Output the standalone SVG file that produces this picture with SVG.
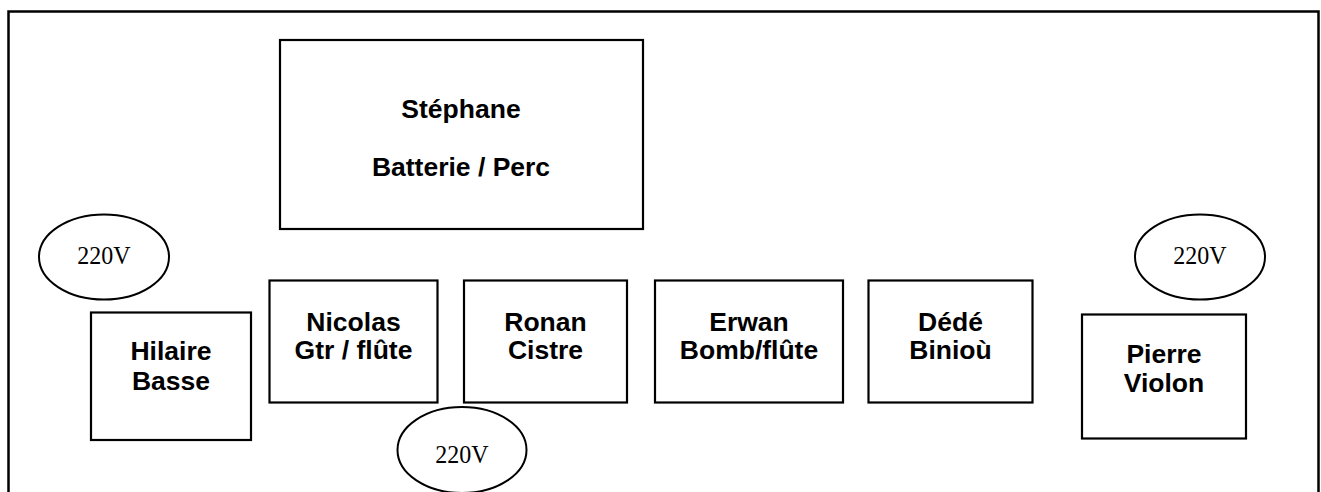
<svg xmlns="http://www.w3.org/2000/svg" width="1321" height="492" viewBox="0 0 1321 492">
<style>
.box{fill:#fff;stroke:#000;stroke-width:2.2}
.ell{fill:#fff;stroke:#000;stroke-width:2}
.lbl{font-family:"Liberation Sans",Arial,sans-serif;font-weight:bold;font-size:26.5px;fill:#000;text-anchor:middle}
.v{font-family:"Liberation Serif","Times New Roman",serif;font-size:24px;fill:#000;text-anchor:middle}
</style>
<rect width="1321" height="492" fill="#fff"/>
<rect x="8.5" y="11.5" width="1310" height="500" fill="none" stroke="#000" stroke-width="2.5"/>
<g id="connectors"></g>
<g id="stephane">
<rect class="box" x="280" y="40" width="363" height="189"/>
<text class="lbl" x="461" y="118">Stéphane</text>
<text class="lbl" x="461" y="176">Batterie / Perc</text>
</g>
<g id="power-left">
<ellipse class="ell" cx="104" cy="257" rx="65" ry="42.5"/>
<text class="v" transform="translate(104,264) scale(1,1.08)">220V</text>
</g>
<g id="power-right">
<ellipse class="ell" cx="1200" cy="257" rx="65" ry="42.5"/>
<text class="v" transform="translate(1200,264) scale(1,1.08)">220V</text>
</g>
<g id="hilaire">
<rect class="box" x="91" y="312.5" width="160" height="127.5"/>
<text class="lbl" x="171" y="360">Hilaire</text>
<text class="lbl" x="171" y="390">Basse</text>
</g>
<g id="nicolas">
<rect class="box" x="269.5" y="280.5" width="168" height="122"/>
<text class="lbl" x="353.5" y="330.5">Nicolas</text>
<text class="lbl" x="353.5" y="359">Gtr / flûte</text>
</g>
<g id="ronan">
<rect class="box" x="464" y="280.5" width="163" height="122"/>
<text class="lbl" x="545.5" y="330.5">Ronan</text>
<text class="lbl" x="545.5" y="359">Cistre</text>
</g>
<g id="erwan">
<rect class="box" x="655" y="280.5" width="188" height="122"/>
<text class="lbl" x="749" y="330.5">Erwan</text>
<text class="lbl" x="749" y="359">Bomb/flûte</text>
</g>
<g id="dede">
<rect class="box" x="868.5" y="280.5" width="164" height="122"/>
<text class="lbl" x="950.5" y="330.5">Dédé</text>
<text class="lbl" x="950.5" y="359">Binioù</text>
</g>
<g id="pierre">
<rect class="box" x="1082" y="314.5" width="164" height="124"/>
<text class="lbl" x="1164" y="362.5">Pierre</text>
<text class="lbl" x="1164" y="391.5">Violon</text>
</g>
<g id="power-bottom">
<ellipse class="ell" cx="462" cy="450" rx="64.5" ry="43"/>
<text class="v" transform="translate(462,463) scale(1,1.08)">220V</text>
</g>
</svg>
